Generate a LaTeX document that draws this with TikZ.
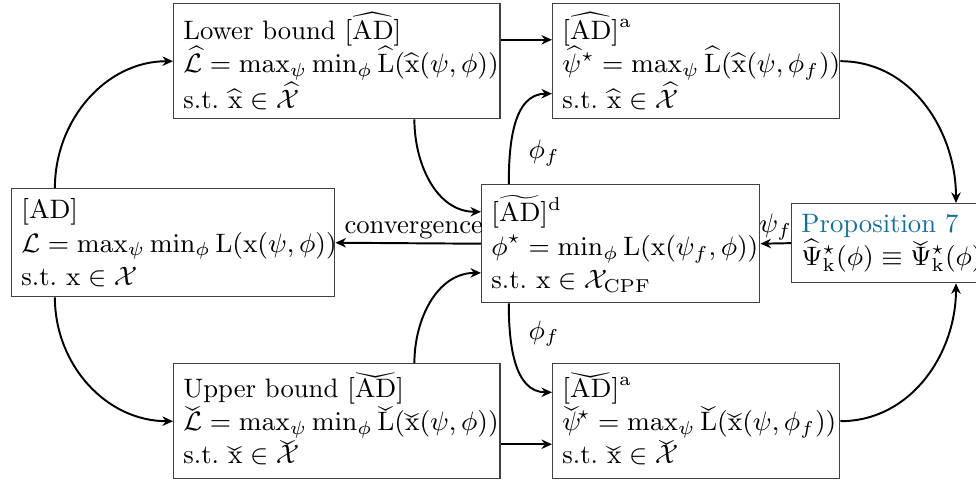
\RequirePackage{fix-cm}
\documentclass[tikz,border=0pt]{standalone}
\usepackage{amsmath,amssymb}
\usepackage{graphicx}
\usepackage{tikz}
\usetikzlibrary{arrows.meta}
\usepackage{xcolor}
\definecolor{propblue}{RGB}{20,110,155}
\newcommand{\AD}{\mathrm{AD}}
% wide check: the wide hat turned upside down
\newlength\chkhat
\newlength\chkbase
\newcommand{\wchk}[1]{\mbox{\settoheight\chkhat{$\widehat{#1}$}%
  \settoheight\chkbase{$#1$}%
  \rlap{$#1$}%
  \raisebox{\dimexpr\chkhat+\chkbase+0.4pt\relax}[\chkbase][0pt]{%
    \scalebox{1}[-1]{$\widehat{\phantom{#1}}$}}}}
\tikzset{
  blk/.style 2 args={draw=black!75,line width=.5pt,anchor=north west,align=left,
               inner xsep=3.5pt,inner ysep=1pt,text width=#1,minimum height=#2,
               execute at begin node={\relpenalty=10000\binoppenalty=10000}},
  flow/.style={-{Stealth[length=3.8pt,width=3.4pt]},line width=.7pt},
}

\begin{document}
\begin{tikzpicture}[x=0.36pt,y=-0.36pt,font=\fontsize{9.6pt}{12pt}\selectfont]
  \useasboundingbox (0,0) rectangle (976,483);
  % boxes
  \node[blk={109.3pt}{38.9pt}] (ad) at (11,188)
    {$[\AD]$\\
     $\mathcal{L}=\max_\psi\min_\phi\mathrm{L}(\mathrm{x}(\psi,\phi))$\\
     s.t.\ $\mathrm{x}\in\mathcal{X}$};
  \node[blk={110.4pt}{41.4pt}] (lb) at (173,3)
    {Lower bound $[\widehat{\AD}]$\\
     $\widehat{\mathcal{L}}=\max_\psi\min_\phi\widehat{\mathrm{L}}(\widehat{\mathrm{x}}(\psi,\phi))$\\
     s.t.\ $\widehat{\mathrm{x}}\in\widehat{\mathcal{X}}$};
  \node[blk={110.4pt}{41.4pt}] (ub) at (173,363)
    {Upper bound $[\wchk{\AD}]$\\
     $\wchk{\mathcal{L}}=\max_\psi\min_\phi\wchk{\mathrm{L}}(\wchk{\mathrm{x}}(\psi,\phi))$\\
     s.t.\ $\wchk{\mathrm{x}}\in\wchk{\mathcal{X}}$};
  \node[blk={93.1pt}{42.5pt}] (mid) at (481,184)
    {$[\widetilde{\AD}]^{\mathrm{d}}$\\
     $\phi^\star=\min_\phi\mathrm{L}(\mathrm{x}(\psi_f,\phi))$\\
     s.t.\ $\mathrm{x}\in\mathcal{X}_{\mathrm{CPF}}$};
  \node[blk={96.3pt}{41.4pt}] (lba) at (552,3)
    {$[\widehat{\AD}]^{\mathrm{a}}$\\
     $\widehat{\psi}^\star=\max_\psi\widehat{\mathrm{L}}(\widehat{\mathrm{x}}(\psi,\phi_f))$\\
     s.t.\ $\widehat{\mathrm{x}}\in\widehat{\mathcal{X}}$};
  \node[blk={96.3pt}{41.4pt}] (uba) at (552,363)
    {$[\wchk{\AD}]^{\mathrm{a}}$\\
     $\wchk{\psi}^{\!\star}=\max_\psi\wchk{\mathrm{L}}(\wchk{\mathrm{x}}(\psi,\phi_f))$\\
     s.t.\ $\wchk{\mathrm{x}}\in\wchk{\mathcal{X}}$};
  \node[blk={65pt}{28.4pt}] (prop) at (791,203)
    {\textcolor{propblue}{Proposition 7}\\
     $\widehat{\Psi}^\star_{\mathrm{k}}(\phi)\equiv\wchk{\Psi}^\star_{\mathrm{k}}(\phi)$};
  % connectors
  \draw[flow] ([xshift=15.8pt]ad.north west) to[out=90,in=180] (lb.west);
  \draw[flow] ([xshift=15.8pt]ad.south west) to[out=-90,in=180] (ub.west);
  \draw[flow] ([yshift=7.7pt]lb.east) -- ([yshift=7.7pt]lba.west);
  \draw[flow] ([yshift=-8.3pt]ub.east) -- ([yshift=-8.3pt]uba.west);
  \draw[flow] ([xshift=-31pt]lb.south east) to[out=-90,in=180] ([yshift=11.5pt]mid.west);
  \draw[flow] ([xshift=-31pt]ub.north east) to[out=90,in=180] ([yshift=-10.5pt]mid.west);
  \draw[flow] (mid.west) -- node[above,inner sep=1pt,xshift=2pt] {convergence} (ad.east);
  \draw[flow] ([xshift=10pt]mid.north west) to[out=90,in=180]
    node[pos=0.25,right=3pt] {$\phi_f$} ([yshift=-11.7pt]lba.west);
  \draw[flow] ([xshift=10pt]mid.south west) to[out=-90,in=180]
    node[pos=0.25,right=3pt] {$\phi_f$} ([yshift=10.4pt]uba.west);
  \draw[flow] (prop.west) -- node[above,inner sep=1pt] {$\psi_f$} (mid.east);
  \draw[flow] (lba.east) to[out=0,in=90] ([xshift=59.4pt]prop.north west);
  \draw[flow] (uba.east) to[out=0,in=-90] ([xshift=59.4pt]prop.south west);
\end{tikzpicture}
\end{document}
